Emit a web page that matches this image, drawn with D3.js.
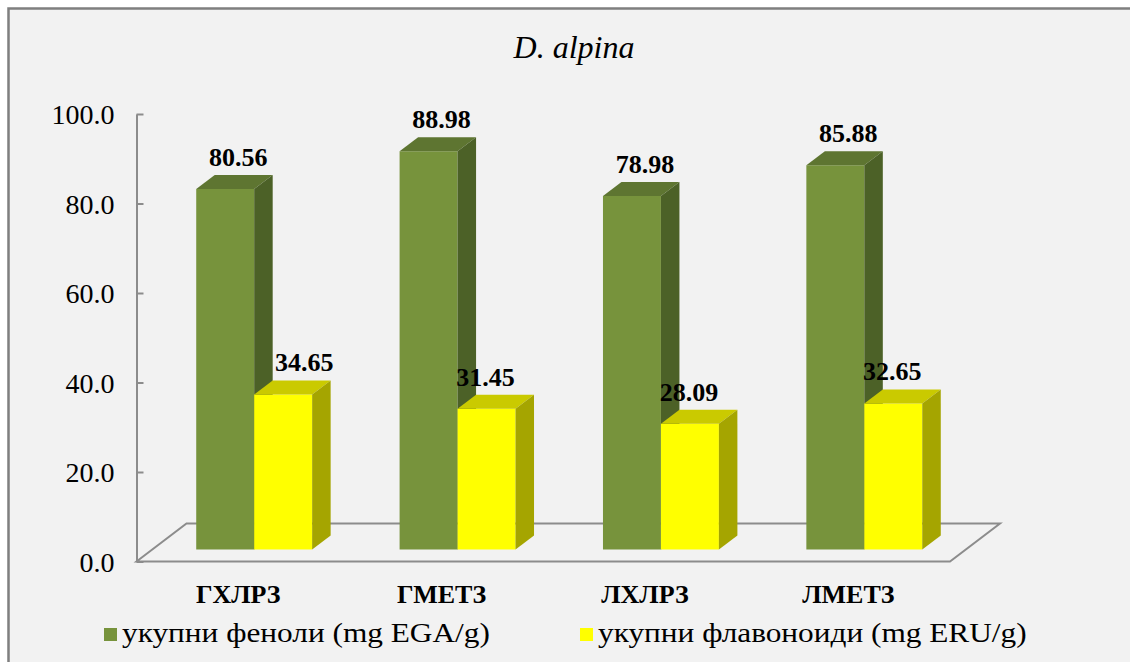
<!DOCTYPE html>
<html><head><meta charset="utf-8">
<script src="https://cdn.jsdelivr.net/npm/d3@7"></script>
<style>body{margin:0;background:#fff}svg{display:block}</style>
</head><body><svg id="c" width="1130" height="662"></svg>
<script>
const title = "D. alpina";
const categories = ["ГХЛРЗ", "ГМЕТЗ", "ЛХЛРЗ", "ЛМЕТЗ"];
const phenols = [80.56, 88.98, 78.98, 85.88];
const flavonoids = [34.65, 31.45, 28.09, 32.65];
const seriesNames = ["укупни феноли (mg EGA/g)", "укупни флавоноиди (mg ERU/g)"];
const yTicks = [0, 20, 40, 60, 80, 100];

const colors = [
  {front: "#77933c", top: "#5e7531", side: "#4c6127"},
  {front: "#ffff00", top: "#caca00", side: "#a5a500"}
];
const FF = '"Liberation Serif"';

const svg = d3.select("#c");
svg.append("rect").attr("x", 8.5).attr("y", 8.5).attr("width", 1140).attr("height", 680)
  .attr("fill", "#f2f2f2").attr("stroke", "#7f7f7f").attr("stroke-width", 2.5);

svg.append("text").attr("x", 574).attr("y", 58).attr("text-anchor", "middle")
  .style("font-family", FF).style("font-style", "italic").style("font-size", "32px").text(title);

const left = 136.5, right = 950, y0 = 561.5, y100 = 114;
const floorDx = 50, floorDy = -38;
const frontDx = 16, frontDy = -12;
const depthDx = 18.5, depthDy = -14;
const labelDx = [13, -1];           // label offset per series
const labelNudge = {"0-1": 22};      // manually moved label in the original

const y = d3.scaleLinear().domain([0, 100]).range([y0, y100]);
const x = d3.scaleBand().domain(categories).range([left, right]).paddingInner(0.43).paddingOuter(0.215);
const xs = d3.scaleBand().domain([0, 1]).range([0, x.bandwidth()]);

// floor
svg.append("path")
  .attr("d", `M${left},${y0} L${left + floorDx},${y0 + floorDy} L${right + floorDx},${y0 + floorDy} L${right},${y0} Z`)
  .attr("fill", "none").attr("stroke", "#8c8c8c").attr("stroke-width", 2);

// axis
const ax = svg.append("g").attr("transform", `translate(${left},0)`)
  .call(d3.axisLeft(y).tickValues(yTicks).tickFormat(d3.format(".1f"))
    .tickSizeInner(-7).tickSizeOuter(0).tickPadding(22));
ax.selectAll("path,line").attr("stroke", "#8c8c8c").attr("stroke-width", 2);
ax.selectAll("text").style("font-family", FF).style("font-size", "28px").attr("fill", "#000").attr("dy", "0.34em");

const series = [phenols, flavonoids];
categories.forEach((c, i) => {
  series.forEach((vals, s) => {
    const v = vals[i];
    const x0 = x(c) + xs(s) + frontDx, w = xs.bandwidth();
    const yb = y(0) + frontDy, yt = y(v) + frontDy;
    const g = svg.append("g");
    const col = colors[s];
    g.append("path").attr("d", `M${x0},${yb} L${x0},${yt} L${x0 + w},${yt} L${x0 + w},${yb} Z`).attr("fill", col.front);
    g.append("path").attr("d", `M${x0},${yt} L${x0 + depthDx},${yt + depthDy} L${x0 + w + depthDx},${yt + depthDy} L${x0 + w},${yt} Z`).attr("fill", col.top);
    g.append("path").attr("d", `M${x0 + w},${yt} L${x0 + w + depthDx},${yt + depthDy} L${x0 + w + depthDx},${yb + depthDy} L${x0 + w},${yb} Z`).attr("fill", col.side);
    svg.append("text").attr("x", x0 + w / 2 + labelDx[s] + (labelNudge[i + "-" + s] || 0)).attr("y", yt + depthDy - 9)
      .attr("text-anchor", "middle").style("font-family", FF).style("font-weight", "bold")
      .style("font-size", "26px").text(d3.format(".2f")(v));
  });
  svg.append("text").attr("x", x(c) + x.bandwidth() / 2).attr("y", 603)
    .attr("text-anchor", "middle").style("font-family", FF).style("font-weight", "bold")
    .style("font-size", "26px").text(c);
});

// legend
const legX = [104, 580];
seriesNames.forEach((n, s) => {
  svg.append("rect").attr("x", legX[s]).attr("y", 628).attr("width", 13).attr("height", 13).attr("fill", colors[s].front);
  svg.append("text").attr("transform", `translate(${legX[s] + 18},642) scale(1.16,1)`)
    .style("font-family", FF).style("font-size", "27px").text(n);
});
</script></body></html>
